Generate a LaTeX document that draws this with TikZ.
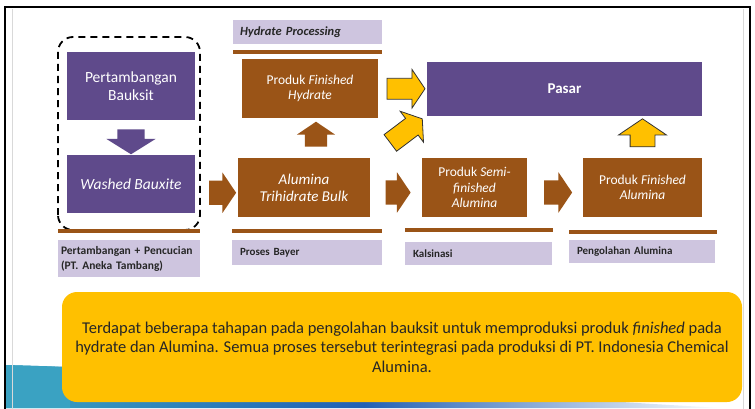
\documentclass[tikz,border=0pt]{standalone}
\usepackage{fontspec}
\setmainfont{Carlito}
\usetikzlibrary{shapes.arrows,calc}
\definecolor{ungu}{HTML}{5F4A8B}
\definecolor{coklat}{HTML}{9A5417}
\definecolor{lavender}{HTML}{CEC5DF}
\definecolor{kuning}{HTML}{FFC000}
\definecolor{tosca}{HTML}{3AA2C2}
\begin{document}
\begin{tikzpicture}[x=1pt,y=1pt,
  kotakungu/.style={fill=ungu, text=white, align=center, inner sep=0,
    minimum width=128, font=\fontsize{15.5}{18}\selectfont},
  kotakcoklat/.style={fill=coklat, text=white, align=center, inner sep=0,
    minimum height=59, font=\fontsize{13.5}{15.5}\selectfont},
  tahap/.style={fill=lavender, text=black!85, align=left, inner xsep=8, inner ysep=0,
    font=\bfseries\fontsize{11}{13}\selectfont},
  garis/.style={draw=coklat, line width=4},
  panah/.style={single arrow, inner xsep=0, minimum height=#1,
    single arrow tip angle=112, anchor=center},
  panahcoklat/.style={panah=#1, fill=coklat, inner ysep=12, single arrow head extend=8},
  panahkuning/.style={panah=#1, fill=kuning, draw=black!80, line width=0.8,
    inner ysep=10, single arrow head extend=9}
]
\useasboundingbox (0,0) rectangle (755,408);

% latar slide
\fill[white] (0,0) rectangle (755,408);
\shade[left color=tosca, right color=white, middle color=tosca!70!blue!85!black]
  (6,0) -- (6,43) .. controls (250,36) and (500,12) .. (722,0) -- cycle;
\fill[tosca] (6,0) -- (6,43) .. controls (40,42) .. (70,41) -- (70,0) -- cycle;
\draw[black, line width=2] (5,-5) rectangle (750,401);
\draw[black!15, line width=0.6] (12,-5) -- (12,399);
\draw[black!15, line width=0.6] (743,-5) -- (743,399);

% pertambangan
\draw[dashed, line width=1.8, dash pattern=on 7 off 5, rounded corners=15]
  (58,178) rectangle (200,371);
\node[kotakungu, minimum height=68] (tambang) at (131,322) {Pertambangan\\Bauksit};
\node[kotakungu, minimum height=58] (wash) at (131,224) {\textit{Washed Bauxite}};
\node[single arrow, fill=ungu, rotate=-90, inner xsep=0, inner ysep=13.5,
  single arrow head extend=11, single arrow tip angle=116, minimum height=25]
  (p1) at ($(tambang.south)!0.5!(wash.north)$) {};

% proses bayer
\node[kotakcoklat, minimum width=136] (hidrat) at (310,319.5)
  {Produk \textit{Finished}\\\textit{Hydrate}};
\node[kotakcoklat, minimum width=132, font=\fontsize{15}{17}\selectfont] (atb) at (304,220.5)
  {\textit{Alumina}\\\textit{Trihidrate Bulk}};
\node[panahcoklat=27] (p2) at ($(wash.east)!0.5!(atb.west)+(2,-7)$) {};
\node[panahcoklat=25, rotate=90, inner ysep=11] (p3)
  at ($(atb.north)!0.5!(hidrat.south)+(9,0)$) {};

% pasar
\node[fill=ungu, text=white, minimum width=275, minimum height=54, inner sep=0,
  font=\bfseries\fontsize{15}{17}\selectfont] (pasar) at (564.5,319) {Pasar};

% kalsinasi dan pengolahan
\node[kotakcoklat, minimum width=105] (semi) at (474.5,220.5)
  {Produk \textit{Semi-}\\\textit{finished}\\\textit{Alumina}};
\node[kotakcoklat, minimum width=119] (fin) at (642.5,220.5)
  {Produk \textit{Finished}\\\textit{Alumina}};
\node[panahcoklat=25] (p4) at ($(atb.east)!0.5!(semi.west)+(-2,-5)$) {};
\node[panahcoklat=28] (p5) at ($(semi.east)!0.5!(fin.west)+(-1,-5)$) {};

% ke pasar
\node[panahkuning=38] (k1) at ($(hidrat.east)!0.5!(pasar.west)$) {};
\node[panahkuning=40, rotate=37] (k2) at ($(atb.north east)!0.5!(pasar.south west)+(5,4)$) {};
\node[panahkuning=28, rotate=90, inner ysep=12, single arrow head extend=11.5] (k3)
  at ($(fin.north)!0.5!(fin.north|-pasar.south)$) {};

% label tahapan
\draw[garis] (233,356) -- (382,356);
\node[tahap, minimum width=149, minimum height=24, text width=135, inner xsep=7,
  font=\bfseries\itshape\fontsize{12.5}{14}\selectfont] (th0) at (307.5,376)
  {Hydrate Processing};
\draw[garis] (58,177) -- (200,177);
\draw[garis] (232,177) -- (382,177);
\draw[garis] (405,178) -- (553,178);
\draw[garis] (569,176) -- (717,176);
\node[tahap, minimum width=142, minimum height=37, text width=136, inner xsep=3,
  font=\bfseries\fontsize{11.5}{15}\selectfont] (th1) at (129,149.5)
  {Pertambangan + Pencucian\\(PT. Aneka Tambang)};
\node[tahap, minimum width=150, minimum height=25, text width=134] (th2) at (307,155.5)
  {Proses Bayer};
\node[tahap, minimum width=147, minimum height=23, text width=131] (th3) at (478.5,154.5)
  {Kalsinasi};
\node[tahap, minimum width=146, minimum height=23, text width=130] (th4) at (642,156.5)
  {Pengolahan Alumina};

% keterangan
\node[fill=kuning, rounded corners=15, minimum width=680, minimum height=110,
  inner sep=0, align=center, text=black!85,
  font=\fontsize{16.5}{19.5}\selectfont] (ket) at (402,61)
  {Terdapat beberapa tahapan pada pengolahan bauksit untuk memproduksi produk \textit{finished} pada\\
   hydrate dan Alumina. Semua proses tersebut terintegrasi pada produksi di PT. Indonesia Chemical\\
   Alumina.};
\end{tikzpicture}
\end{document}
